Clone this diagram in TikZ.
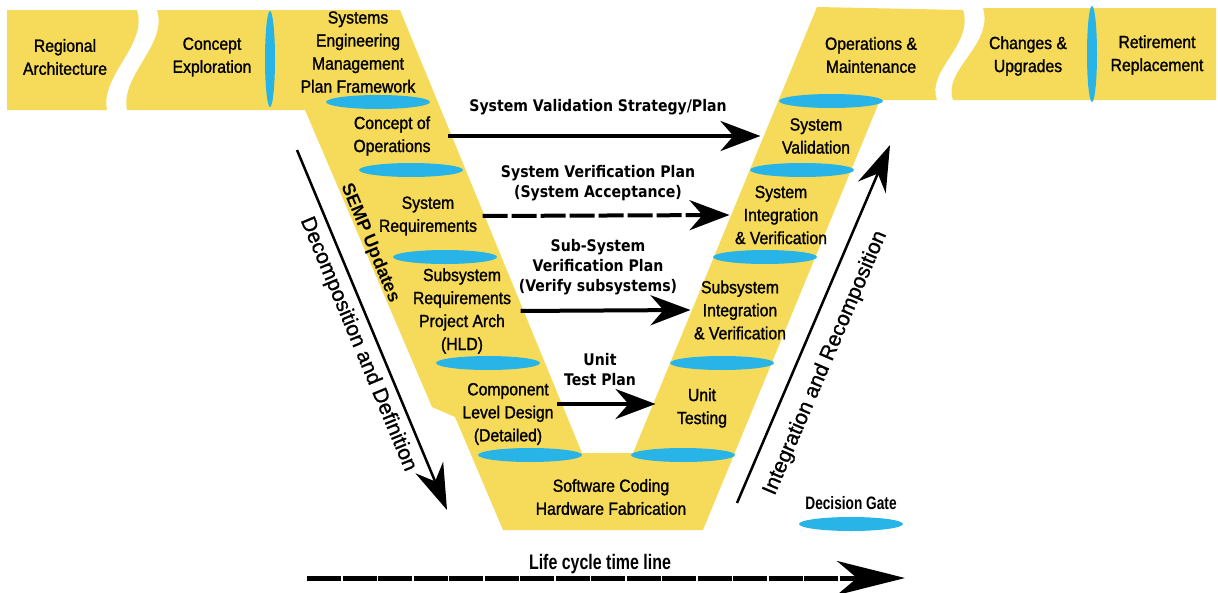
\documentclass[tikz,border=0pt]{standalone}
\usepackage{fontspec}
\setmainfont{Liberation Sans}
\newfontfamily\boxfont{Liberation Sans}[FakeStretch=0.9, FakeBold=1.3]
\newfontfamily\trendfont{Liberation Sans}[FakeBold=1]
\newfontfamily\narrowfont{Liberation Sans}[FakeStretch=0.76]
\newfontfamily\planfont{DejaVu Sans}[FakeStretch=0.88]
\usetikzlibrary{arrows.meta, positioning, shapes.geometric}
\definecolor{vyellow}{RGB}{246,219,90}
\definecolor{gateblue}{RGB}{40,180,230}

\begin{document}
\begin{tikzpicture}[x=1pt, y=-1pt,
    stage/.style={align=center, font=\boxfont\fontsize{17.5}{23}\selectfont},
    plan/.style={align=center, font=\planfont\bfseries\fontsize{16}{20}\selectfont},
    gate/.style={ellipse, fill=gateblue, inner sep=0pt, minimum width=104pt, minimum height=14pt},
    vgate/.style={ellipse, fill=gateblue, inner sep=0pt, minimum width=10pt, minimum height=96pt},
    planarrow/.style={line width=4pt, -{Stealth[length=40pt, width=30pt, inset=13pt]}},
    trendarrow/.style={line width=2.5pt, -{Stealth[length=46pt, width=30pt, inset=15pt]}},
  ]
  \useasboundingbox (0,0) rectangle (1218,592);

  \fill[vyellow] (7,10) -- (137,10) .. controls (148,45) and (100,75) .. (107,110) -- (7,110) -- cycle;
  \fill[vyellow] (157,10) -- (400,10) -- (582,453) -- (633,453) -- (817,7) -- (963,10)
    .. controls (974,45) and (926,70) .. (937,100) -- (880,100) -- (703,530) -- (503,530)
    -- (455,417) -- (432,407) -- (305,110) -- (127,110)
    .. controls (120,75) and (168,45) .. (157,10) -- cycle;
  \fill[vyellow] (983,8) -- (1216,8) -- (1216,100) -- (953,100)
    .. controls (942,70) and (994,45) .. (983,8) -- cycle;

  \foreach \x/\y [count=\i] in {378/102, 411/170, 445/257, 488/363, 530/455,
      831/101, 802/170, 765/257, 722/363, 683/455}
    \node[gate] (g\i) at (\x,\y) {};
  \node[vgate] (vg1) at (270,59) {};
  \node[vgate] (vg2) at (1092,54) {};

  \node[stage] (reg) at (65,57) {Regional\\Architecture};
  \node[stage] (cexp) at (212,57) {Concept\\Exploration};
  \node[stage] (semp) at (358,52) {Systems\\Engineering\\Management\\Plan Framework};
  \node[stage] (conops) at (392,136) {Concept of\\Operations};
  \node[stage] (sysreq) at (428,216) {System\\Requirements};
  \node[stage] (subreq) at (462,311) {Subsystem\\Requirements\\Project Arch\\(HLD)};
  \node[stage] (comp) at (508,414) {Component\\Level Design\\(Detailed)};
  \node[stage] (code) at (611,497) {Software Coding\\Hardware Fabrication};
  \node[stage] (unit) at (702,408) {Unit\\Testing};
  \node[stage] (subint) at (740,310) {Subsystem\\Integration\\\& Verification};
  \node[stage] (sysint) at (781,215) {System\\Integration\\\& Verification};
  \node[stage] (sysval) at (816,136) {System\\Validation};
  \node[stage] (ops) at (871,55) {Operations \&\\Maintenance};
  \node[stage] (chg) at (1028,56) {Changes \&\\Upgrades};
  \node[stage] (ret) at (1157,55) {Retirement\\Replacement};

  \node[plan] (valplan) at (598,107) {System Validation Strategy/Plan};
  \node[plan] (verplan) at (598,183) {System Verification Plan\\(System Acceptance)};
  \node[plan] (subplan) at (598,267) {Sub-System\\Verification Plan\\(Verify subsystems)};
  \node[plan] (unitplan) at (600,370) {Unit\\Test Plan};

  \draw[planarrow, shorten <=14pt, shorten >=18pt] (conops.east) -- (sysval.west);
  \draw[planarrow, dash pattern=on 25pt off 4pt, shorten <=2pt, shorten >=2pt] (sysreq.east) -- (sysint.west);
  \draw[planarrow, shorten <=6pt] (subreq.east) -- (subint.west);
  \draw[planarrow, shorten >=18pt] ([yshift=4pt]comp.east |- unit.west) -- ([yshift=4pt]unit.west);

  \coordinate (dec-top) at (297,150);
  \coordinate (dec-bot) at (447,510);
  \coordinate (int-bot) at (737,503);
  \coordinate (int-top) at (890,145);
  \draw[trendarrow] (dec-top) -- node[sloped, below=4pt, pos=0.52, font=\trendfont\fontsize{21}{21}\selectfont] (decomp) {Decomposition and Definition} (dec-bot);
  \draw[trendarrow] (int-bot) -- node[sloped, below=12pt, pos=0.42, font=\trendfont\fontsize{21}{21}\selectfont] (integ) {Integration and Recomposition} (int-top);
  \node[rotate=-67.4, font=\bfseries\fontsize{18}{18}\selectfont] (sempup) at (370,243) {SEMP Updates};

  \node[gate] (legend) at (851,524) {};
  \node[above=4pt of legend, font=\narrowfont\bfseries\fontsize{18}{18}\selectfont] (legendtxt) {Decision Gate};

  \coordinate (tl-start) at (307,578);
  \coordinate (tl-end) at (905,578);
  \draw[line width=5pt, dash pattern=on 34pt off 1.5pt, -{Stealth[length=68pt, width=34pt, inset=20pt]}] (tl-start) -- (tl-end);
  \node[font=\narrowfont\bfseries\fontsize{21}{21}\selectfont] (lifecycle) at (600,564) {Life cycle time line};
\end{tikzpicture}
\end{document}
